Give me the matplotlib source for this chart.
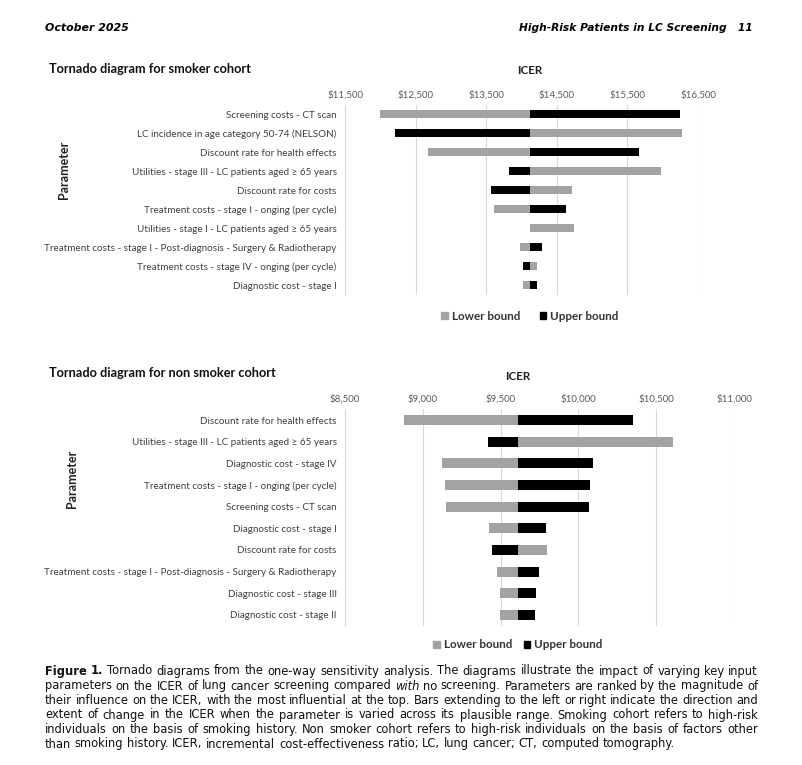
import matplotlib
matplotlib.use("Agg")
import matplotlib.pyplot as plt
from matplotlib.patches import Patch
from matplotlib.ticker import FuncFormatter

W, H = 802, 765

# ---------------- data ----------------
smoker_params = [
    "Screening costs - CT scan",
    "LC incidence in age category 50-74 (NELSON)",
    "Discount rate for health effects",
    "Utilities - stage III - LC patients aged \u2265 65 years",
    "Discount rate for costs",
    "Treatment costs - stage I - onging (per cycle)",
    "Utilities - stage I - LC patients aged \u2265 65 years",
    "Treatment costs - stage I - Post-diagnosis - Surgery & Radiotherapy",
    "Treatment costs - stage IV - onging (per cycle)",
    "Diagnostic cost - stage I",
]
smoker_lower = [11995, 16278, 12670, 15981, 14722, 13604, 14745, 13972, 14226, 14028]
smoker_upper = [16241, 12212, 15665, 13825, 13571, 14627, 14125, 14288, 14028, 14226]
smoker_base = 14125
smoker_ticks = [11500, 12500, 13500, 14500, 15500, 16500]

nonsmoker_params = [
    "Discount rate for health effects",
    "Utilities - stage III - LC patients aged \u2265 65 years",
    "Diagnostic cost - stage IV",
    "Treatment costs - stage I - onging (per cycle)",
    "Screening costs - CT scan",
    "Diagnostic cost - stage I",
    "Discount rate for costs",
    "Treatment costs - stage I - Post-diagnosis - Surgery & Radiotherapy",
    "Diagnostic cost - stage III",
    "Diagnostic cost - stage II",
]
nonsmoker_lower = [8877, 10606, 9123, 9140, 9147, 9425, 9796, 9477, 9496, 9496]
nonsmoker_upper = [10353, 9417, 10092, 10077, 10068, 9794, 9443, 9745, 9728, 9723]
nonsmoker_base = 9610
nonsmoker_ticks = [8500, 9000, 9500, 10000, 10500, 11000]

GRAY = "#a3a3a3"
BLACK = "#000000"
TICKC = "#595959"
CHART_FONT = ["Lato", "DejaVu Sans"]

fig = plt.figure(figsize=(W / 100, H / 100), dpi=100)


def box(l, r, t, b):
    return [l / W, 1 - b / H, (r - l) / W, (b - t) / H]


def tornado(rect, params, low, up, base, ticks, barh_frac):
    ax = fig.add_axes(rect)
    n = len(params)
    ys = list(range(n))
    ax.barh(ys, [v - base for v in low], left=base, height=barh_frac,
            color=GRAY, edgecolor="none", zorder=3)
    ax.barh(ys, [v - base for v in up], left=base, height=barh_frac,
            color=BLACK, edgecolor="none", zorder=3)
    ax.set_xlim(ticks[0], ticks[-1])
    ax.set_ylim(n - 0.5, -0.5)
    ax.set_xticks(ticks)
    ax.xaxis.set_major_formatter(FuncFormatter(lambda v, p: "${:,.0f}".format(v)))
    ax.xaxis.tick_top()
    ax.set_yticks(ys)
    ax.set_yticklabels(params)
    ax.tick_params(axis="x", length=0, pad=4, labelsize=7.0, labelcolor=TICKC)
    ax.tick_params(axis="y", length=0, pad=6, labelsize=7.1, labelcolor="#404040")
    for lab in ax.get_xticklabels() + ax.get_yticklabels():
        lab.set_family(CHART_FONT)
    ax.grid(axis="x", color="#d9d9d9", linewidth=0.8, zorder=0)
    for s in ["top", "right", "bottom"]:
        ax.spines[s].set_visible(False)
    ax.spines["left"].set_color("#d9d9d9")
    ax.spines["left"].set_linewidth(0.8)
    return ax


ax1 = tornado(box(345, 698, 104.8, 294.8), smoker_params, smoker_lower,
              smoker_upper, smoker_base, smoker_ticks, 0.42)
ax2 = tornado(box(345, 734, 409.2, 625.8), nonsmoker_params, nonsmoker_lower,
              nonsmoker_upper, nonsmoker_base, nonsmoker_ticks, 0.46)


def fx(x):
    return x / W


def fy(y):
    return 1 - y / H


# header
fig.text(fx(45), fy(28), "October 2025", ha="left", va="center", fontsize=7.9,
         fontweight="bold", fontstyle="italic", family="DejaVu Sans")
fig.text(fx(753), fy(28), "High-Risk Patients in LC Screening   11", ha="right",
         va="center", fontsize=7.7, fontweight="bold", fontstyle="italic",
         family="DejaVu Sans")

# chart titles and labels
for (tx, ty, txt) in [(49, 69, "Tornado diagram for smoker cohort"),
                      (49, 373, "Tornado diagram for non smoker cohort")]:
    fig.text(fx(tx), fy(ty), txt, ha="left", va="center", fontsize=9.2,
             fontweight="bold", family=CHART_FONT, color="#111111")
for (tx, ty) in [(530, 71), (518, 377)]:
    fig.text(fx(tx), fy(ty), "ICER", ha="center", va="center", fontsize=8.4,
             fontweight="bold", family=CHART_FONT, color="#222222")
for (tx, ty) in [(64, 170), (72, 479)]:
    fig.text(fx(tx), fy(ty), "Parameter", ha="center", va="center", fontsize=9.0,
             fontweight="bold", family=CHART_FONT, rotation=90, color="#222222")

# legends
handles = [Patch(facecolor=GRAY, edgecolor=GRAY, label="Lower bound"),
           Patch(facecolor=BLACK, edgecolor=BLACK, label="Upper bound")]
for (lx, ly, cs) in [(530, 316, 1.7), (518, 645, 1.0)]:
    leg = fig.legend(handles=handles, loc="center", bbox_to_anchor=(fx(lx), fy(ly)),
                     ncol=2, frameon=False, handlelength=0.55, handleheight=0.55,
                     handletextpad=0.35, columnspacing=cs,
                     prop={"family": CHART_FONT, "weight": "bold", "size": 8.4})
    for t in leg.get_texts():
        t.set_color("#333333")

# caption with justified lines
caption_lines = [
    [("Figure 1.", "bold"), ("Tornado diagrams from the one-way sensitivity analysis. The diagrams illustrate the impact of varying key input", "normal")],
    [("parameters on the ICER of lung cancer screening compared", "normal"), ("with", "italic"), ("no screening. Parameters are ranked by the magnitude of", "normal")],
    [("their influence on the ICER, with the most influential at the top. Bars extending to the left or right indicate the direction and", "normal")],
    [("extent of change in the ICER when the parameter is varied across its plausible range. Smoking cohort refers to high-risk", "normal")],
    [("individuals on the basis of smoking history. Non smoker cohort refers to high-risk individuals on the basis of factors other", "normal")],
    [("than smoking history. ICER, incremental cost-effectiveness ratio; LC, lung cancer; CT, computed tomography.", "normal")],
]
cap_y = [671.5, 686.5, 701.0, 715.5, 730.0, 744.5]
cap_left, cap_right = 45, 758
cap_font = ["DejaVu Sans"]
cap_size = 8.3

renderer = fig.canvas.get_renderer()
tmp1 = fig.text(0, 0, "a a", fontsize=cap_size, family=cap_font)
tmp2 = fig.text(0, 0, "aa", fontsize=cap_size, family=cap_font)
sw = tmp1.get_window_extent(renderer).width - tmp2.get_window_extent(renderer).width
tmp1.remove()
tmp2.remove()
for li, (segs, yy) in enumerate(zip(caption_lines, cap_y)):
    words = []
    for txt, sty in segs:
        for w in txt.split():
            words.append((w, sty))
    arts = []
    for w, sty in words:
        kw = dict(fontsize=cap_size, family=cap_font, ha="left", va="baseline",
                  color="#111111")
        if sty == "bold":
            kw["fontweight"] = "bold"
        if sty == "italic":
            kw["fontstyle"] = "italic"
        arts.append(fig.text(0, fy(yy + 3), w, **kw))
    widths = [a.get_window_extent(renderer).width for a in arts]
    if li < len(caption_lines) - 1 and len(arts) > 1:
        gap = (cap_right - cap_left - sum(widths)) / (len(arts) - 1)
    else:
        gap = sw
    x = cap_left
    for a, wdt in zip(arts, widths):
        a.set_x(fx(x))
        x += wdt + gap

fig.savefig("out.png", dpi=100)
